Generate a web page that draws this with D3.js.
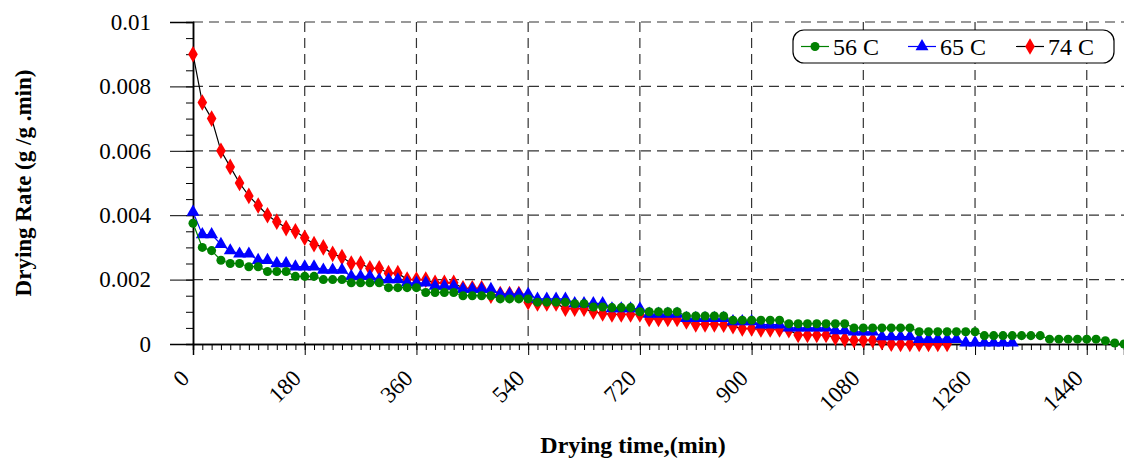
<!DOCTYPE html>
<html>
<head>
<meta charset="utf-8">
<script src="https://cdn.jsdelivr.net/npm/d3@7"></script>
<style>
  body { margin: 0; background: #fff; }
  svg { font-family: "Liberation Serif", "Times New Roman", serif; }
</style>
</head>
<body>
<svg id="chart" width="1124" height="460"></svg>
<script>
// drying time every 15 min
var step = 15

var rate56 = [0.00375, 0.003, 0.0029, 0.0026, 0.0025, 0.0025, 0.0024, 0.0024, 0.00225, 0.00225,
  0.00225, 0.0021, 0.0021, 0.0021, 0.002, 0.002, 0.002, 0.0019, 0.0019, 0.0019,
  0.0019, 0.00175, 0.00175, 0.00175, 0.00175, 0.0016, 0.0016, 0.0016, 0.0016, 0.0015,
  0.0015, 0.0015, 0.0015, 0.0014, 0.0014, 0.0014, 0.0014, 0.0013, 0.0013, 0.0013,
  0.0013, 0.00125, 0.00125, 0.00115, 0.00115, 0.00113, 0.00113, 0.00113, 0.001, 0.001,
  0.001, 0.001, 0.001, 0.00087, 0.00087, 0.00087, 0.00087, 0.00087, 0.00074, 0.00074,
  0.00074, 0.00074, 0.00074, 0.00074, 0.00063, 0.00063, 0.00063, 0.00063, 0.00063, 0.00063,
  0.00063, 0.0005, 0.0005, 0.0005, 0.0005, 0.0005, 0.0005, 0.0005, 0.00038, 0.00038,
  0.00038, 0.00038, 0.00038, 0.00038, 0.00038, 0.00026, 0.00026, 0.00026, 0.00026, 0.00026,
  0.00026, 0.00026, 0.00015, 0.00015, 0.00015, 0.00015, 0.00015, 0.00015, 0.0001, 0.00003,
  0]

var rate65 = [0.0041, 0.0034, 0.0034, 0.0031, 0.0029, 0.0028, 0.0028, 0.0026, 0.0026, 0.0025,
  0.0025, 0.0024, 0.0024, 0.0024, 0.0023, 0.0023, 0.0023, 0.0021, 0.0021, 0.0021,
  0.002, 0.002, 0.002, 0.0019, 0.0019, 0.0019, 0.0018, 0.0018, 0.0018, 0.0017,
  0.0017, 0.0017, 0.0017, 0.00155, 0.00155, 0.00155, 0.00155, 0.0014, 0.0014, 0.0014,
  0.0014, 0.00126, 0.00126, 0.00126, 0.00126, 0.0011, 0.0011, 0.0011, 0.0011, 0.00093,
  0.00093, 0.00093, 0.00093, 0.0008, 0.0008, 0.0008, 0.0008, 0.0008, 0.0007, 0.0007,
  0.0007, 0.0006, 0.0006, 0.0006, 0.0005, 0.0005, 0.0005, 0.0005, 0.0005, 0.00042,
  0.00042, 0.00038, 0.00038, 0.00038, 0.00023, 0.00023, 0.00023, 0.00023, 0.00015, 0.00015,
  0.00015, 0.00015, 0.00015, 0.00004, 0.00004, 0.00004, 0.00004, 0.00004, 0.00004]

var rate74 = [0.009, 0.0075, 0.007, 0.006, 0.0055, 0.005, 0.0046, 0.0043, 0.004, 0.0038,
  0.0036, 0.0035, 0.0033, 0.0031, 0.003, 0.0028, 0.0027, 0.0025, 0.0025, 0.00235,
  0.00235, 0.0022, 0.0022, 0.002, 0.002, 0.002, 0.0019, 0.0019, 0.0019, 0.00173,
  0.00173, 0.00173, 0.0015, 0.00155, 0.00155, 0.00155, 0.0013, 0.00126, 0.00126, 0.00126,
  0.0011, 0.0011, 0.0011, 0.001, 0.00095, 0.00092, 0.00092, 0.00092, 0.00092, 0.00078,
  0.00078, 0.00078, 0.00078, 0.0007, 0.00061, 0.00061, 0.00061, 0.0006, 0.00055, 0.00048,
  0.00048, 0.00045, 0.00045, 0.00045, 0.00043, 0.00028, 0.00028, 0.00028, 0.00028, 0.0002,
  0.00015, 0.00012, 0.00012, 0.00012, 0.00006, 0.00001, 0, 0, 0, 0,
  0, 0]

var xTicks = [0, 180, 360, 540, 720, 900, 1080, 1260, 1440]
var yTicks = [0, 0.002, 0.004, 0.006, 0.008, 0.01]
var yTickLabels = ["0", "0.002", "0.004", "0.006", "0.008", "0.01"]

var seriesNames = ["56 C", "65 C", "74 C"]
var seriesColors = ["#008000", "#0000ff", "#ff0000"]
var lineColors = ["#008000", "#0000ff", "#000000"]
var seriesShapes = [d3.symbolCircle, d3.symbolTriangle, d3.symbolDiamond]
var seriesSizes = [64, 72, 80]

var margin = {top: 22, right: 0, bottom: 116, left: 193}
var width = 1124 - margin.left - margin.right
var height = 460 - margin.top - margin.bottom

var svg = d3.select("#chart")
var g = svg.append("g").attr("transform", "translate(" + margin.left + "," + margin.top + ")")

var xScale = d3.scaleLinear().domain([0, 1500]).range([0, width])
var yScale = d3.scaleLinear().domain([0, 0.01]).range([height, 0])

// grid
g.append("g").selectAll("line").data(xTicks.slice(1))
  .enter().append("line")
  .attr("x1", function(d) { return xScale(d) })
  .attr("x2", function(d) { return xScale(d) })
  .attr("y1", 0).attr("y2", height)
  .attr("stroke", "#333").attr("stroke-width", 1.2).attr("stroke-dasharray", "10,6")

g.append("g").selectAll("line").data(yTicks.slice(1))
  .enter().append("line")
  .attr("x1", 0).attr("x2", width)
  .attr("y1", function(d) { return yScale(d) })
  .attr("y2", function(d) { return yScale(d) })
  .attr("stroke", "#333").attr("stroke-width", 1.2).attr("stroke-dasharray", "10,6")

// axes
var xMinor = d3.range(0, 1500 + 1, 15)
var xAxisMinor = d3.axisBottom(xScale).tickValues(xMinor).tickSize(6).tickFormat("")
var xAxis = d3.axisBottom(xScale).tickValues(xTicks).tickSize(11).tickFormat("")
var yMinor = d3.range(0, 0.01001, 0.0005)
var yAxisMinor = d3.axisLeft(yScale).tickValues(yMinor).tickSize(7).tickFormat("")
var yAxis = d3.axisLeft(yScale).tickValues(yTicks).tickSize(23)
  .tickFormat(function(d, i) { return yTickLabels[i] })

function styleAxis(sel) {
  sel.select(".domain").attr("stroke", "#000").attr("stroke-width", 1.5)
  sel.selectAll(".tick line").attr("stroke", "#000").attr("stroke-width", 1)
}

g.append("g").attr("transform", "translate(0," + height + ")").call(xAxisMinor).call(styleAxis)
g.append("g").attr("transform", "translate(0," + height + ")").call(xAxis).call(styleAxis)
g.append("g").call(yAxisMinor).call(styleAxis)
var yG = g.append("g").call(yAxis).call(styleAxis)
yG.selectAll(".tick text")
  .attr("x", -42)
  .style("font-family", "Liberation Serif")
  .style("font-size", "23px")
  .attr("fill", "#000")

// rotated x labels
g.append("g").selectAll("text").data(xTicks)
  .enter().append("text")
  .attr("transform", function(d) { return "translate(" + (xScale(d) - 8) + "," + (height + 30) + ") rotate(-45)" })
  .attr("text-anchor", "end")
  .attr("dy", "0.35em")
  .style("font-size", "23px")
  .text(function(d) { return d })

// series
var allSeries = [rate56, rate65, rate74]
var line = d3.line()
  .x(function(d, i) { return xScale(i * step) })
  .y(function(d) { return yScale(d) })

var drawOrder = [2, 1, 0]
drawOrder.forEach(function(k) {
  var data = allSeries[k]
  var sg = g.append("g")
  sg.append("path")
    .datum(data)
    .attr("d", line)
    .attr("fill", "none")
    .attr("stroke", lineColors[k])
    .attr("stroke-width", 1.2)
  var symbol = d3.symbol().type(seriesShapes[k]).size(seriesSizes[k])
  sg.selectAll(".pt").data(data)
    .enter().append("path")
    .attr("class", "pt")
    .attr("d", symbol)
    .attr("transform", function(d, i) { return "translate(" + xScale(i * step) + "," + yScale(d) + ")" })
    .attr("fill", seriesColors[k])
})

// axis titles
svg.append("text")
  .attr("x", 633).attr("y", 453)
  .attr("text-anchor", "middle")
  .style("font-size", "24px").style("font-weight", "bold")
  .text("Drying time,(min)")

svg.append("text")
  .attr("transform", "translate(31,183) rotate(-90)")
  .attr("text-anchor", "middle")
  .style("font-size", "23px").style("font-weight", "bold")
  .text("Drying Rate (g /g .min)")

// legend
var legend = svg.append("g").attr("transform", "translate(793,30)")
legend.append("rect")
  .attr("width", 321).attr("height", 33)
  .attr("rx", 11).attr("ry", 11)
  .attr("fill", "#fff").attr("stroke", "#000").attr("stroke-width", 1.2)

var legendX = [8, 115, 223]
seriesNames.forEach(function(name, k) {
  var lg = legend.append("g").attr("transform", "translate(" + legendX[k] + ",16.5)")
  lg.append("line").attr("x1", 0).attr("x2", 28).attr("y1", 0).attr("y2", 0)
    .attr("stroke", lineColors[k]).attr("stroke-width", 1.2)
  lg.append("path").attr("d", d3.symbol().type(seriesShapes[k]).size(seriesSizes[k]))
    .attr("transform", "translate(14,0)")
    .attr("fill", seriesColors[k])
  lg.append("text").attr("x", 32).attr("y", 0).attr("dy", "0.35em")
    .style("font-size", "24px")
    .text(name)
})
</script>
</body>
</html>
